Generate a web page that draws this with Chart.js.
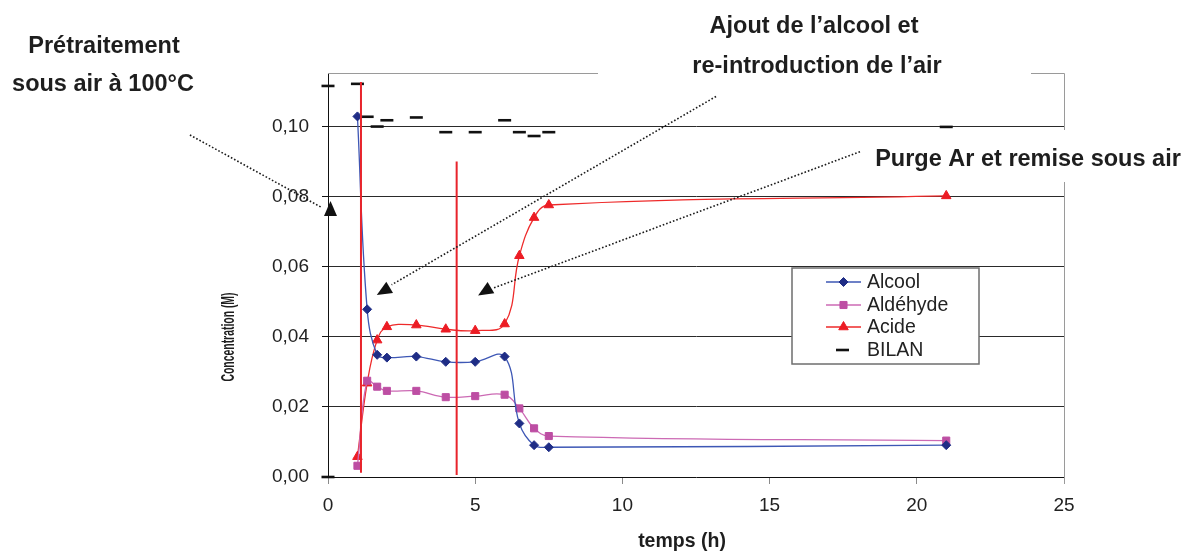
<!DOCTYPE html>
<html><head><meta charset="utf-8">
<script src="https://cdn.jsdelivr.net/npm/chart.js@4.4.1/dist/chart.umd.min.js"></script>
<style>html,body{margin:0;padding:0;background:#fff;overflow:hidden}#wrap{width:1186px;height:552px;position:relative}</style>
</head><body><div id="wrap"><canvas id="c" width="1186" height="552"></canvas></div>
<script>
// ---------- data ----------
const times    = [1, 1.33, 1.67, 2, 3, 4, 5, 6, 6.5, 7, 7.5, 21];
const alcool   = [0.1030, 0.0479, 0.0349, 0.0341, 0.0344, 0.0329, 0.0329, 0.0344, 0.0153, 0.0091, 0.0085, 0.0091];
const aldehyde = [0.0032, 0.0275, 0.0258, 0.0246, 0.0246, 0.0228, 0.0231, 0.0235, 0.0196, 0.0139, 0.0117, 0.0104];
const acide    = [0.0058, 0.0268, 0.0391, 0.0429, 0.0434, 0.0422, 0.0418, 0.0437, 0.0632, 0.0741, 0.0777, 0.0803];
const bilanTimes = [0, 0, 1, 1.33, 1.67, 2, 3, 4, 5, 6, 6.5, 7, 7.5, 21];
const bilan      = [0, 0.1117, 0.1123, 0.1029, 0.1001, 0.1019, 0.1027, 0.0985, 0.0985, 0.1019, 0.0985, 0.0974, 0.0985, 0.1000];
const seriesNames = ['Alcool', 'Aldéhyde', 'Acide', 'BILAN'];
const eventTimes  = [1.12, 4.37];        // vertical red lines
const eventTop    = [0.1128, 0.0901];
const eventBottom = [0.0012, 0.0006];
const xTicks = [0, 5, 10, 15, 20, 25];
const yTicks = [0, 0.02, 0.04, 0.06, 0.08, 0.10];
const xTitle = 'temps (h)';
const yTitle = 'Concentration (M)';
const noteLines = ['Prétraitement', 'sous air à 100°C', 'Ajout de l\u2019alcool et', 're-introduction de l\u2019air', 'Purge Ar et remise sous air'];
// arrows (data coordinates): start, end, head centre
const arrowStartX = [-4.69, 13.18, 18.07];
const arrowStartY = [0.0977, 0.1087, 0.0929];
const arrowEndX   = [-0.24, 2.16, 5.60];
const arrowEndY   = [0.0771, 0.0549, 0.0539];
const headX = [0.085, 1.92, 5.36];
const headY = [0.0763, 0.0533, 0.0532];

// ---------- layout / style ----------
const FONT = "'Liberation Sans', Arial, Helvetica, sans-serif";
const layoutCfg = {
  notePos: [[104, 53], [103, 91], [814, 33], [817, 73], [1028, 166]],
  noteMasks: [[598, 0, 433, 95], [862, 130, 324, 52]],
  headRot: [0, -121, -121],
  legendBox: [792, 268, 187, 96],
  legendRows: [282, 305, 327, 350],
  yTitlePos: [229.5, 337, 89],
  xTitlePos: [682, 547]
};
const colors = {
  alcoolLine: '#3d57b5', alcoolPt: '#1f2d86',
  aldLine: '#cc6ab4', aldPt: '#bd4ea3',
  acideLine: '#ee2a2a', acidePt: '#ec1c24',
  bilan: '#111111', event: '#e8242c'
};

const pts = (xs, ys) => xs.map((x, i) => ({x: x, y: ys[i]}));

const datasets = [
  {label: '_e1', data: [{x: eventTimes[0], y: eventTop[0]}, {x: eventTimes[0], y: eventBottom[0]}],
   borderColor: colors.event, borderWidth: 2, pointRadius: 0, tension: 0, order: -1},
  {label: '_e2', data: [{x: eventTimes[1], y: eventTop[1]}, {x: eventTimes[1], y: eventBottom[1]}],
   borderColor: colors.event, borderWidth: 2, pointRadius: 0, tension: 0, order: -1},
  {label: seriesNames[0], data: pts(times, alcool), borderColor: colors.alcoolLine, borderWidth: 1.3,
   pointStyle: 'rectRot', pointRadius: 4.5, pointBackgroundColor: colors.alcoolPt, pointBorderColor: colors.alcoolPt,
   pointBorderWidth: 1, tension: 0.4},
  {label: seriesNames[1], data: pts(times, aldehyde), borderColor: colors.aldLine, borderWidth: 1.3,
   pointStyle: 'rect', pointRadius: 5, pointBackgroundColor: colors.aldPt, pointBorderColor: colors.aldPt,
   pointBorderWidth: 1, tension: 0.4},
  {label: seriesNames[2], data: pts(times, acide), borderColor: colors.acideLine, borderWidth: 1.3,
   pointStyle: 'triangle', pointRadius: 5.5, pointBackgroundColor: colors.acidePt, pointBorderColor: colors.acidePt,
   pointBorderWidth: 1, tension: 0.4},
  {label: seriesNames[3], data: pts(bilanTimes, bilan), showLine: false, borderColor: colors.bilan,
   pointStyle: 'line', pointRadius: 6.5, pointBorderWidth: 2.6, pointBorderColor: colors.bilan, clip: false}
];

function drawMarker(ctx, style, x, y, r, fill) {
  ctx.save();
  ctx.fillStyle = fill; ctx.strokeStyle = fill; ctx.lineWidth = 1;
  ctx.beginPath();
  if (style === 'rectRot') { ctx.moveTo(x, y - r); ctx.lineTo(x + r, y); ctx.lineTo(x, y + r); ctx.lineTo(x - r, y); ctx.closePath(); ctx.fill(); ctx.stroke(); }
  else if (style === 'rect') { const s = r * Math.SQRT1_2; ctx.rect(x - s, y - s, 2 * s, 2 * s); ctx.fill(); ctx.stroke(); }
  else if (style === 'triangle') { ctx.moveTo(x, y - r); ctx.lineTo(x + r * 0.866, y + r / 2); ctx.lineTo(x - r * 0.866, y + r / 2); ctx.closePath(); ctx.fill(); ctx.stroke(); }
  ctx.restore();
}

const decor = {
  id: 'decor',
  beforeDatasetsDraw(chart) {
    const ctx = chart.ctx, a = chart.chartArea;
    ctx.save();
    ctx.strokeStyle = '#9a9a9a'; ctx.lineWidth = 1;
    ctx.beginPath();
    ctx.moveTo(a.left, a.top + 0.5); ctx.lineTo(a.right + 0.5, a.top + 0.5); ctx.lineTo(a.right + 0.5, a.bottom + 7);
    ctx.stroke();
    ctx.restore();
  },
  afterDraw(chart) {
    const ctx = chart.ctx, xs = chart.scales.x, ys = chart.scales.y;
    ctx.save();
    // masks behind the annotation texts
    ctx.fillStyle = '#ffffff';
    layoutCfg.noteMasks.forEach(m => ctx.fillRect(m[0], m[1], m[2], m[3]));
    // annotation texts
    ctx.fillStyle = '#1e1e1e';
    ctx.font = 'bold 23.5px ' + FONT;
    ctx.textAlign = 'center'; ctx.textBaseline = 'alphabetic';
    noteLines.forEach((t, i) => ctx.fillText(t, layoutCfg.notePos[i][0], layoutCfg.notePos[i][1]));
    // dotted arrows
    ctx.strokeStyle = '#1a1a1a'; ctx.lineWidth = 1.6; ctx.setLineDash([1.6, 2]);
    for (let i = 0; i < arrowStartX.length; i++) {
      ctx.beginPath();
      ctx.moveTo(xs.getPixelForValue(arrowStartX[i]), ys.getPixelForValue(arrowStartY[i]));
      ctx.lineTo(xs.getPixelForValue(arrowEndX[i]), ys.getPixelForValue(arrowEndY[i]));
      ctx.stroke();
    }
    ctx.setLineDash([]);
    // arrow heads
    ctx.fillStyle = '#111';
    for (let i = 0; i < headX.length; i++) {
      const cx = xs.getPixelForValue(headX[i]), cy = ys.getPixelForValue(headY[i]);
      ctx.save(); ctx.translate(cx, cy); ctx.rotate(layoutCfg.headRot[i] * Math.PI / 180);
      ctx.beginPath(); ctx.moveTo(0, -9); ctx.lineTo(6.5, 6); ctx.lineTo(-6.5, 6); ctx.closePath(); ctx.fill();
      ctx.restore();
    }
    // legend
    const lb = layoutCfg.legendBox;
    ctx.fillStyle = '#fff'; ctx.fillRect(lb[0], lb[1], lb[2], lb[3]);
    ctx.strokeStyle = '#6e6e6e'; ctx.lineWidth = 1.5; ctx.strokeRect(lb[0], lb[1], lb[2], lb[3]);
    const series = chart.data.datasets.filter(d => seriesNames.includes(d.label));
    series.forEach((d, i) => {
      const y = layoutCfg.legendRows[i];
      if (d.pointStyle === 'line') {
        ctx.strokeStyle = d.pointBorderColor; ctx.lineWidth = 2.6;
        ctx.beginPath(); ctx.moveTo(836, y); ctx.lineTo(849, y); ctx.stroke();
      } else {
        ctx.strokeStyle = d.borderColor; ctx.lineWidth = 1.5;
        ctx.beginPath(); ctx.moveTo(826, y); ctx.lineTo(861, y); ctx.stroke();
        drawMarker(ctx, d.pointStyle, 843.5, y, d.pointRadius, d.pointBackgroundColor);
      }
      ctx.fillStyle = '#222'; ctx.font = '19.5px ' + FONT; ctx.textAlign = 'left'; ctx.textBaseline = 'middle';
      ctx.fillText(d.label, 867, y + 1);
    });
    // axis titles
    ctx.fillStyle = '#1e1e1e';
    ctx.font = 'bold 19.5px ' + FONT; ctx.textAlign = 'center'; ctx.textBaseline = 'alphabetic';
    ctx.fillText(xTitle, layoutCfg.xTitlePos[0], layoutCfg.xTitlePos[1]);
    const yt = layoutCfg.yTitlePos;
    ctx.save();
    ctx.translate(yt[0], yt[1]); ctx.rotate(-Math.PI / 2);
    ctx.font = 'bold 18px ' + FONT; ctx.textBaseline = 'middle';
    const w = ctx.measureText(yTitle).width;
    ctx.scale(yt[2] / w, 1);
    ctx.fillText(yTitle, 0, 0);
    ctx.restore();
    ctx.restore();
  }
};

new Chart(document.getElementById('c'), {
  type: 'line',
  data: {datasets: datasets},
  options: {
    responsive: false, animation: false, devicePixelRatio: 1,
    layout: {padding: {left: 0, top: 73, right: 122, bottom: 0}},
    plugins: {legend: {display: false}, tooltip: {enabled: false}},
    scales: {
      x: {
        type: 'linear', min: 0, max: 25,
        afterBuildTicks: s => { s.ticks = xTicks.map(v => ({value: v})); },
        afterFit: s => { s.height = 75; },
        grid: {drawOnChartArea: false, drawTicks: true, tickLength: 7, tickColor: '#8a8a8a'},
        border: {color: '#111', width: 1},
        ticks: {font: {family: FONT, size: 19}, color: '#222', padding: 10, maxRotation: 0, callback: v => String(v)}
      },
      y: {
        type: 'linear', min: 0, max: 0.1154,
        afterBuildTicks: s => { s.ticks = yTicks.map(v => ({value: v})); },
        afterFit: s => { s.width = 328; },
        grid: {color: ctx => (ctx.tick && ctx.tick.value === 0) ? 'rgba(0,0,0,0)' : '#2a2a2a', lineWidth: 1,
               drawTicks: true, tickLength: 6, tickColor: '#111'},
        border: {color: '#111', width: 1},
        ticks: {font: {family: FONT, size: 19}, color: '#222', padding: 13,
                callback: v => Number(v).toFixed(2).replace('.', ',')}
      }
    }
  },
  plugins: [decor]
});
</script></body></html>
